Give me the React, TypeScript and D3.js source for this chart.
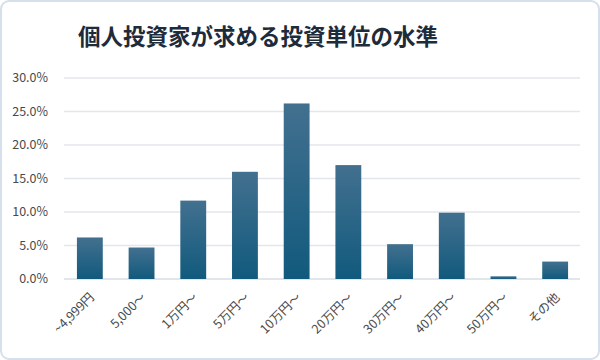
import * as d3 from "d3";

const categories = ["~4,999円", "5,000〜", "1万円〜", "5万円〜", "10万円〜", "20万円〜", "30万円〜", "40万円〜", "50万円〜", "その他"];
const values = [6.2, 4.7, 11.7, 16.0, 26.2, 17.0, 5.2, 9.9, 0.4, 2.6];
const yTicks = [0, 5, 10, 15, 20, 25, 30];
const title = "個人投資家が求める投資単位の水準";

const font = "'Noto Sans CJK JP', 'Noto Sans', sans-serif";

export default function App() {
  const width = 600;
  const height = 360;
  const margin = { top: 78, right: 20, bottom: 81, left: 64 };

  const x = d3
    .scaleBand<string>()
    .domain(categories)
    .range([margin.left, width - margin.right + 1])
    .paddingInner(0.5)
    .paddingOuter(0.25);

  const y = d3
    .scaleLinear()
    .domain([0, 30])
    .range([height - margin.bottom, margin.top]);

  const fmt = (d: number) => d.toFixed(1) + "%";

  return (
    <svg
      width={width}
      height={height}
      style={{ position: "absolute", left: 0, top: 0, background: "#fff" }}
    >
      <defs>
        <linearGradient id="barGrad" x1="0" y1="0" x2="0" y2="1">
          <stop offset="0%" stopColor="#43708f" />
          <stop offset="100%" stopColor="#115a7d" />
        </linearGradient>
      </defs>
      <rect x={1} y={1} width={width - 2} height={height - 2} rx={8} fill="#fff" stroke="#d6e0ec" strokeWidth={2} />

      <text
        x={258}
        y={45}
        textAnchor="middle"
        fontFamily={font}
        fontWeight="bold"
        fontSize={22.5}
        fill="#1e2b3a"
      >
        {title}
      </text>

      {/* grid + y axis */}
      {yTicks.map((t) => (
        <g key={t}>
          <line
            x1={margin.left}
            x2={width - margin.right}
            y1={y(t)}
            y2={y(t)}
            stroke={t === 0 ? "#d9dce2" : "#e3e6ee"}
            strokeWidth={1.3}
          />
          <text
            x={48}
            y={y(t)}
            dy="0.35em"
            textAnchor="end"
            fontFamily={font}
            fontSize={12.5}
            fill="#4a4a4a"
          >
            {fmt(t)}
          </text>
        </g>
      ))}

      {/* bars */}
      {categories.map((c, i) => (
        <rect
          key={c}
          x={x(c)}
          y={y(values[i])}
          width={x.bandwidth()}
          height={y(0) - y(values[i])}
          fill="url(#barGrad)"
        />
      ))}

      {/* x labels */}
      {categories.map((c) => {
        const cx = (x(c) ?? 0) + x.bandwidth() / 2 + 2;
        const cy = y(0) + 16;
        return (
          <text
            key={c}
            transform={`translate(${cx},${cy}) rotate(-45)`}
            textAnchor="end"
            dy="0.35em"
            fontFamily={font}
            fontSize={12.5}
            fill="#4a4a4a"
          >
            {c}
          </text>
        );
      })}
    </svg>
  );
}
